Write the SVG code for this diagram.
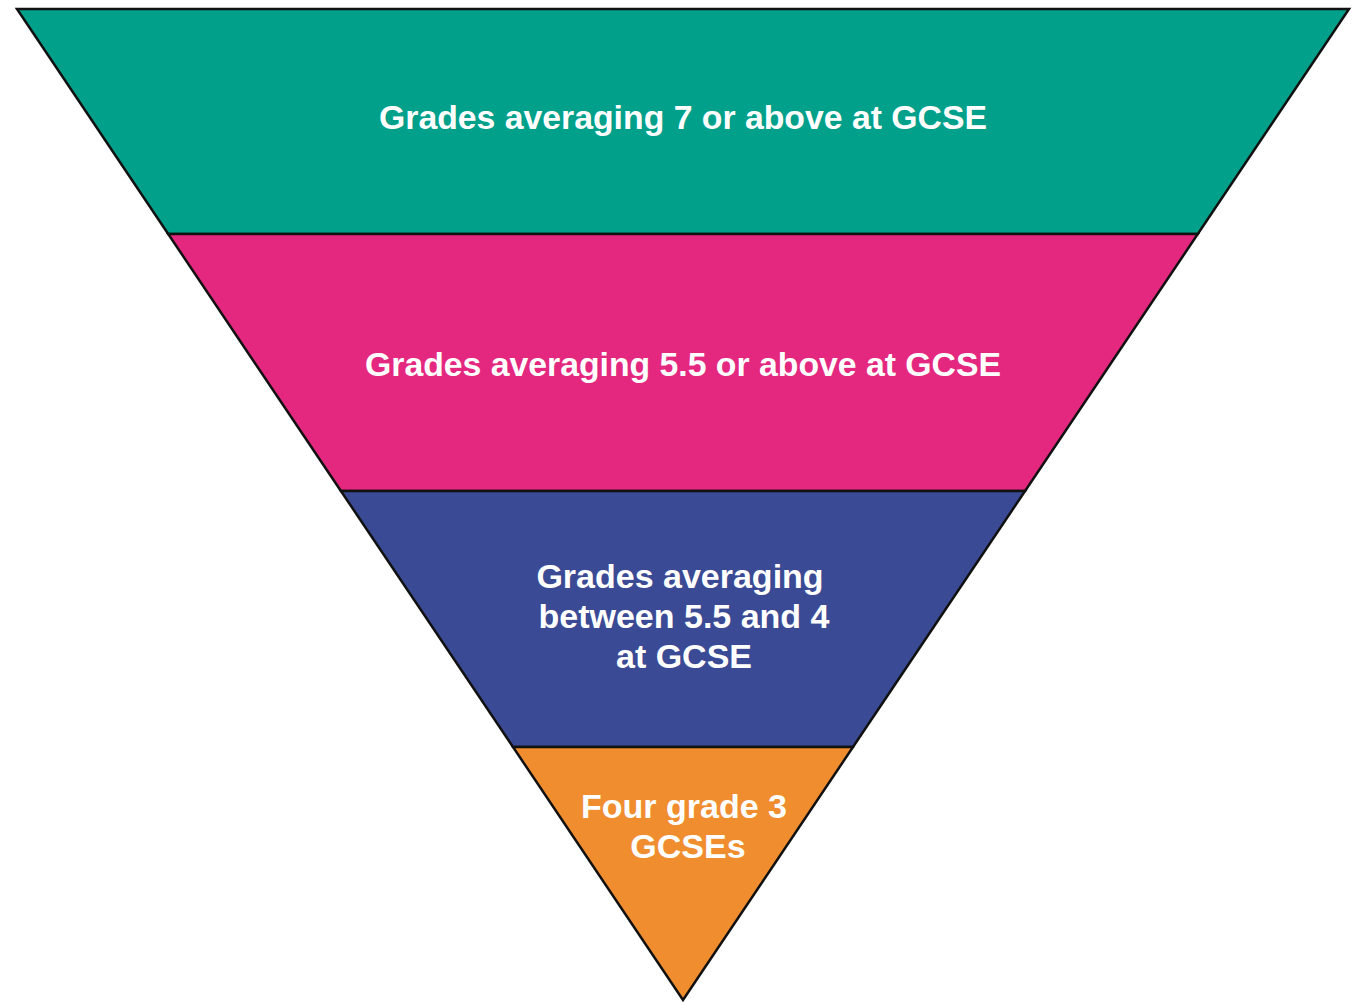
<svg xmlns="http://www.w3.org/2000/svg" width="1360" height="1002" viewBox="0 0 1360 1002">
<style>
.band{stroke:#111;stroke-width:2.5;stroke-linejoin:miter}
.lbl{font-family:"Liberation Sans",Arial,sans-serif;font-weight:bold;font-size:34px;fill:#fff;text-anchor:middle}
</style>
<rect width="1360" height="1002" fill="#fff"/>
<g id="band1">
<polygon class="band" fill="#00a08b" points="17,9 1349,9 1197.8,234 168.2,234"/>
<text class="lbl" x="683" y="129" textLength="608" lengthAdjust="spacingAndGlyphs">Grades averaging 7 or above at GCSE</text>
</g>
<g id="band2">
<polygon class="band" fill="#e4287f" points="168.2,234 1197.8,234 1025.1,491 340.9,491"/>
<text class="lbl" x="683" y="376" textLength="636" lengthAdjust="spacingAndGlyphs">Grades averaging 5.5 or above at GCSE</text>
</g>
<g id="band3">
<polygon class="band" fill="#3a4a94" points="340.9,491 1025.1,491 853,747 513,747"/>
<text class="lbl" x="680" y="588">Grades averaging</text>
<text class="lbl" x="684" y="628">between 5.5 and 4</text>
<text class="lbl" x="684" y="668">at GCSE</text>
</g>
<g id="band4">
<polygon class="band" fill="#f08d2f" points="513,747 853,747 683,1000"/>
<text class="lbl" x="684" y="818">Four grade 3</text>
<text class="lbl" x="688" y="858">GCSEs</text>
</g>
<g id="connectors"/>
</svg>
